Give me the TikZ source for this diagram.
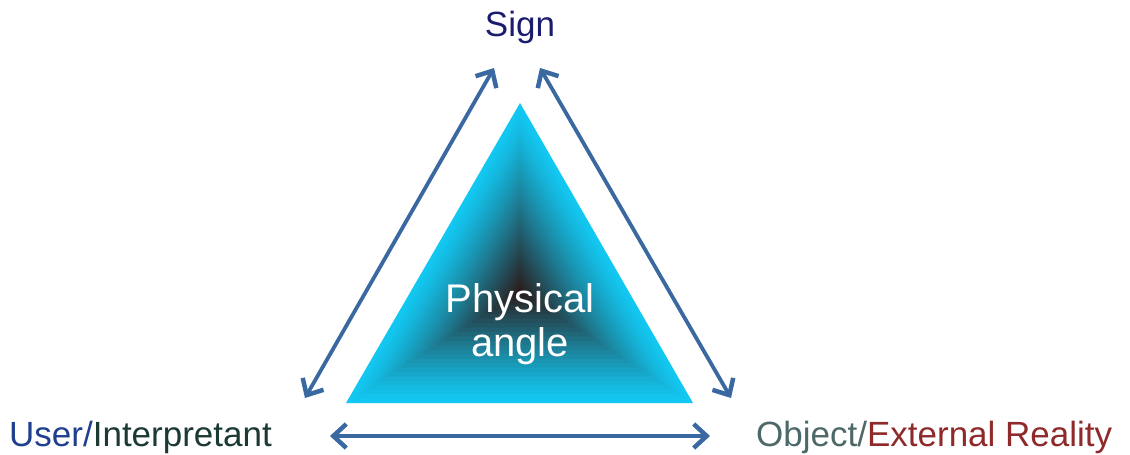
\documentclass[tikz,border=0pt]{standalone}
\usepackage{fontspec}
\setmainfont{Liberation Sans}
\usetikzlibrary{arrows.meta,calc}
\definecolor{arr}{HTML}{3A68A0}
\definecolor{signc}{HTML}{1C1C6E}
\definecolor{userc}{HTML}{1F3F8F}
\definecolor{intc}{HTML}{1B3A36}
\definecolor{objc}{HTML}{4D6868}
\definecolor{extc}{HTML}{8E2A2A}
\definecolor{cyanA}{HTML}{12C8F2}
\definecolor{darkA}{HTML}{2A1E1E}
\tikzset{
  lbl/.style={font=\fontsize{35}{40}\selectfont, inner sep=0pt, anchor=base},
  dbl/.style={draw=arr, line width=3.8pt, {Straight Barb[length=13pt,width=24pt,line width=4.5pt]}-{Straight Barb[length=13pt,width=24pt,line width=4.5pt]}},
}
\begin{document}
\begin{tikzpicture}[x=1pt,y=-1pt]
\useasboundingbox (0,0) rectangle (1130,455);
% shaded triangle
\foreach \i in {0,...,24}{
  \pgfmathsetmacro{\s}{1-\i/25}
  \pgfmathsetmacro{\p}{100*(\i/24)^1.2}
  \fill[darkA!\p!cyanA] ($(520,292)+\s*(0,-189)$) -- ($(520,292)+\s*(-174,111)$) -- ($(520,292)+\s*(173,111)$) -- cycle;
}
\node[lbl, text=signc] (sign) at (520,36) {Sign};
\node[lbl, anchor=base west] (user) at (9,446) {\textcolor{userc}{User/}\textcolor{intc}{Interpretant}};
\node[lbl, anchor=base west] (obj) at (756,446) {\textcolor{objc}{Object/}\textcolor{extc}{External Reality}};
\node[lbl, text=white, align=center, font=\fontsize{40}{44}\selectfont] (phys) at (520,356) {Physical\\angle};
\coordinate (a1) at (494,68);
\coordinate (a2) at (305,398);
\coordinate (b1) at (540,68);
\coordinate (b2) at (731,398);
\coordinate (c1) at (330,436);
\coordinate (c2) at (710,436);
\draw[dbl] (a1) -- (a2);
\draw[dbl] (b1) -- (b2);
\draw[dbl] (c1) -- (c2);
\end{tikzpicture}
\end{document}
